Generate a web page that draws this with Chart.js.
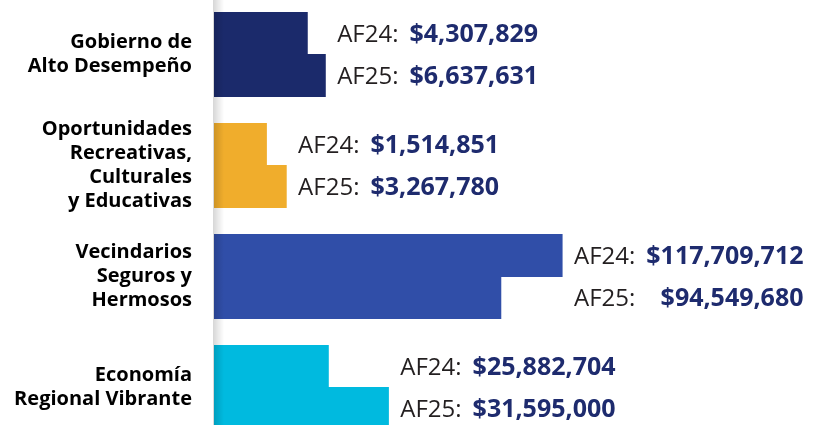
<!DOCTYPE html>
<html>
<head>
<meta charset="utf-8">
<script src="https://cdn.jsdelivr.net/npm/chart.js@4.4.0/dist/chart.umd.min.js"></script>
<style>
    html, body { margin: 0; padding: 0; background: #ffffff; overflow: hidden; }
    body { width: 815px; height: 425px; position: relative; }
    #wrap { position: absolute; left: 0; top: -1px; width: 815px; height: 444px; }
</style>
</head>
<body>
<div id="wrap"><canvas id="budgetChart"></canvas></div>
<script>
'use strict'

const categories = [
    ['Gobierno de', 'Alto Desempeño'],
    ['Oportunidades', 'Recreativas,', 'Culturales', 'y Educativas'],
    ['Vecindarios', 'Seguros y', 'Hermosos'],
    ['Economía', 'Regional Vibrante']
];
const fiscalYears = ['AF24', 'AF25'];
const amounts24 = [4307829, 1514851, 117709712, 25882704];
const amounts25 = [6637631, 3267780, 94549680, 31595000];
// the source graphic does not draw its bars to scale, so lengths are read off the picture (0-100)
const bars24 = [15.5, 8.7, 57.9, 19.0];
const bars25 = [18.5, 12.0, 47.7, 29.0];
const colors = ['#1b2a6b', '#f0ad2c', '#304ea8', '#00badf'];

const money = (n) => '$' + n.toLocaleString('en-US');

// soft grey edge along the axis
const axisShade = {
    id: 'axisShade',
    afterDatasetsDraw(chart) {
        const { ctx, chartArea } = chart;
        const g = ctx.createLinearGradient(chartArea.left - 1, 0, chartArea.left + 10, 0);
        g.addColorStop(0, 'rgba(0,0,0,0.16)');
        g.addColorStop(1, 'rgba(0,0,0,0)');
        ctx.save();
        ctx.fillStyle = g;
        ctx.fillRect(chartArea.left - 1, chartArea.top, 11, chartArea.bottom - chartArea.top);
        ctx.restore();
    }
};

// "AF24: $x" labels next to each pair of bars
const amountLabels = {
    id: 'amountLabels',
    afterDatasetsDraw(chart) {
        const ctx = chart.ctx;
        const m24 = chart.getDatasetMeta(0).data;
        const m25 = chart.getDatasetMeta(1).data;
        const prefixFont = '24px "Open Sans"';
        const valueFont = 'bold 25px "Open Sans"';
        ctx.save();
        ctx.textBaseline = 'middle';
        categories.forEach((c, i) => {
            const rows = [[m24[i], amounts24[i]], [m25[i], amounts25[i]]];
            const x0 = Math.max(m24[i].x, m25[i].x) + 12;
            ctx.font = valueFont;
            const valW = Math.max(...rows.map(r => ctx.measureText(money(r[1])).width));
            ctx.font = prefixFont;
            const preW = ctx.measureText('AF24:').width;
            const xEnd = x0 + preW + 11 + valW;
            rows.forEach((r, k) => {
                const y = r[0].y + 1.5;
                ctx.font = prefixFont;
                ctx.fillStyle = '#231f20';
                ctx.textAlign = 'left';
                ctx.fillText(fiscalYears[k] + ':', x0, y);
                ctx.font = valueFont;
                ctx.fillStyle = '#1e2b6e';
                ctx.textAlign = 'right';
                ctx.fillText(money(r[1]), xEnd, y);
            });
        });
        ctx.restore();
    }
};

const budgetChart = new Chart(document.getElementById('budgetChart').getContext('2d'), {
    type: 'bar',
    data: {
        labels: categories,
        datasets: [{
            label: fiscalYears[0],
            data: bars24,
            backgroundColor: colors,
            barThickness: 42,
            inflateAmount: 0.6
        },
        {
            label: fiscalYears[1],
            data: bars25,
            backgroundColor: colors,
            barThickness: 42,
            inflateAmount: 0.6
        }]
    },
    options: {
        indexAxis: 'y',
        responsive: true,
        maintainAspectRatio: false,
        animation: false,
        layout: { padding: 0 },
        plugins: {
            legend: { display: false },
            tooltip: { enabled: false }
        },
        scales: {
            x: {
                display: false,
                min: 0,
                max: 100
            },
            y: {
                afterFit: (scale) => {
                    scale.width = 214;
                    scale.paddingTop = 0;
                    scale.paddingBottom = 0;
                },
                grid: { display: false },
                border: { display: false },
                ticks: {
                    color: '#000000',
                    padding: 14,
                    font: { family: 'Open Sans', size: 20, weight: 'bold', lineHeight: 1.2 }
                }
            }
        }
    },
    plugins: [axisShade, amountLabels]
});
</script>
</body>
</html>
